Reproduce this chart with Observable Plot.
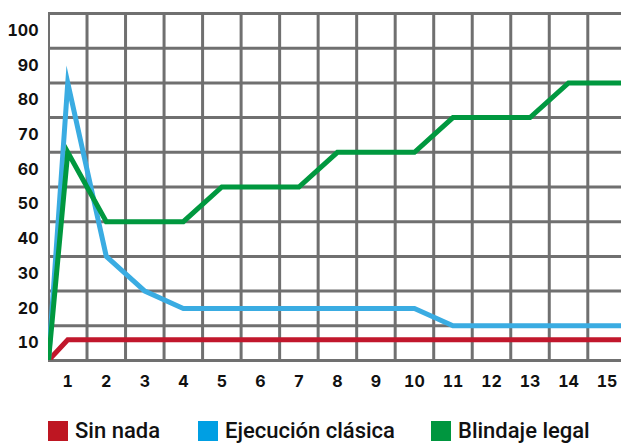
<!DOCTYPE html>
<html>
<head>
<meta charset="utf-8">
<script src="https://cdn.jsdelivr.net/npm/d3@7"></script>
<script src="https://cdn.jsdelivr.net/npm/@observablehq/plot@0.6"></script>
<style>
  html, body { margin: 0; padding: 0; background: #fff; overflow: hidden; }
  #chart svg { display: block; }
  #chart svg text { font-family: Inter, sans-serif !important; font-weight: 700 !important; font-size: 16px !important; fill: #111; }
  .legend { position: relative; width: 621px; height: 43px; font-family: Roboto, "Noto Sans", sans-serif; }
  .item { position: absolute; top: 21px; display: flex; align-items: center; height: 20px; }
  .sw { width: 20px; height: 20px; margin-right: 7px; }
  .lab { font-size: 22px; font-weight: 500; color: #111; line-height: 20px; }
</style>
</head>
<body>
<div id="chart"></div>
<div class="legend" id="legend"></div>
<script>
const periods   = [0.5, 1, 2, 3, 4, 5, 6, 7, 8, 9, 10, 11, 12, 13, 14, 15, 15.5];
const sinNada   = [5, 11, 11, 11, 11, 11, 11, 11, 11, 11, 11, 11, 11, 11, 11, 11, 11];
const ejecucion = [5, 85, 35, 25, 20, 20, 20, 20, 20, 20, 20, 15, 15, 15, 15, 15, 15];
const blindaje  = [5, 65, 45, 45, 45, 55, 55, 55, 65, 65, 65, 75, 75, 75, 85, 85, 85];

const seriesNames = ["Sin nada", "Ejecución clásica", "Blindaje legal"];
const lineColors = ["#c1172c", "#3aace2", "#00983f"];
const swatchColors = ["#be1622", "#009fe3", "#00963f"];

const xTicks = [1, 2, 3, 4, 5, 6, 7, 8, 9, 10, 11, 12, 13, 14, 15];
const yTicks = [10, 20, 30, 40, 50, 60, 70, 80, 90, 100];
const xGrid = [0.5, 1.5, 2.5, 3.5, 4.5, 5.5, 6.5, 7.5, 8.5, 9.5, 10.5, 11.5, 12.5, 13.5, 14.5, 15.5];
const yGrid = [5, 15, 25, 35, 45, 55, 65, 75, 85, 95, 105];

const allSeries = [sinNada, ejecucion, blindaje];
const rows = allSeries.flatMap((vals, i) =>
  periods.map((p, j) => ({ x: p, y: vals[j], s: seriesNames[i] })));

const lineMarks = seriesNames.map((name, i) =>
  Plot.line(rows.filter(d => d.s === name), {
    x: "x", y: "y",
    stroke: lineColors[i],
    strokeWidth: 5,
    strokeLinejoin: "miter",
    strokeMiterlimit: 10,
    strokeLinecap: "butt",
    clip: true
  }));

const chart = Plot.plot({
  width: 621,
  height: 400,
  marginLeft: 48,
  marginRight: 0,
  marginTop: 13,
  marginBottom: 40,
  style: { fontFamily: "Inter, sans-serif", fontSize: "16px", fontWeight: 700, color: "#111", background: "#fff", overflow: "hidden" },
  x: { domain: [0.5, 15.375], label: null },
  y: { domain: [5, 105], label: null },
  marks: [
    Plot.ruleX(xGrid, { stroke: "#707070", strokeWidth: 3, clip: true }),
    Plot.ruleY(yGrid, { stroke: "#707070", strokeWidth: 3 }),
    Plot.axisX(xTicks, { tickSize: 0, tickPadding: 15, label: null }),
    Plot.axisY(yTicks, { tickSize: 0, tickPadding: 10, label: null }),
    ...lineMarks
  ]
});
document.getElementById("chart").appendChild(chart);

const legendLeft = [48, 198, 431];
const legend = document.getElementById("legend");
seriesNames.forEach((name, i) => {
  const it = document.createElement("div");
  it.className = "item";
  it.style.left = legendLeft[i] + "px";
  const sw = document.createElement("div");
  sw.className = "sw";
  sw.style.background = swatchColors[i];
  const lab = document.createElement("span");
  lab.className = "lab";
  lab.textContent = name;
  it.appendChild(sw);
  it.appendChild(lab);
  legend.appendChild(it);
});
</script>
</body>
</html>
